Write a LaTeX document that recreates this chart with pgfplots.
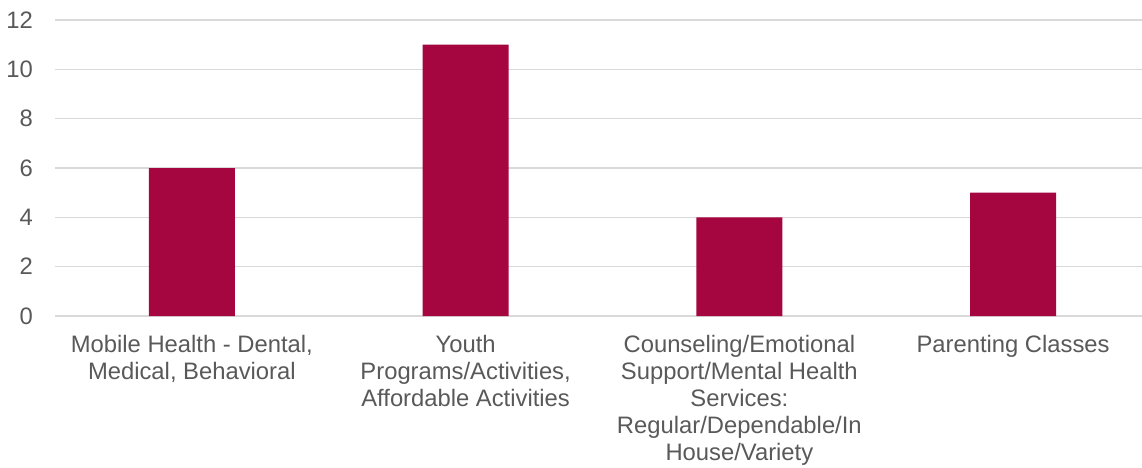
\documentclass[border=0pt]{standalone}
\usepackage{pgfplots}
\pgfplotsset{compat=1.18}
\usepackage{fontspec}
\setmainfont{Liberation Sans}
\definecolor{barred}{HTML}{A50640}
\definecolor{txtgray}{HTML}{595959}
\definecolor{gridgray}{HTML}{D9D9D9}
\begin{document}
\begin{tikzpicture}
\useasboundingbox (-55pt,-151pt) rectangle (1087pt,316pt);
\begin{axis}[
    scale only axis,
    width=1095pt, height=296pt,
    xmin=-0.5, xmax=3.5,
    ymin=0, ymax=12,
    ytick={0,2,...,12},
    xtick={0,1,2,3},
    xticklabels={
        {Mobile Health - Dental,\\Medical, Behavioral},
        {Youth\\Programs/Activities,\\Affordable Activities},
        {Counseling/Emotional\\Support/Mental Health\\Services:\\Regular/Dependable/In\\House/Variety},
        {Parenting Classes}},
    xticklabel style={align=center, font=\fontsize{23.8}{27}\selectfont, text=txtgray, anchor=north, inner sep=0pt, yshift=-19pt},
    yticklabel style={font=\fontsize{23.8}{27}\selectfont, text=txtgray, inner sep=0pt, xshift=-22pt},
    /pgf/number format/assume math mode=true,
    axis line style={draw=none},
    major tick length=0pt,
    ymajorgrids,
    grid style={gridgray, line width=1.2pt},
    clip=false,
]
\addplot[ybar, bar width=86pt, fill=barred, draw=none] coordinates {
    (0,6) (1,11) (2,4) (3,5)
};
\end{axis}
\end{tikzpicture}
\end{document}
